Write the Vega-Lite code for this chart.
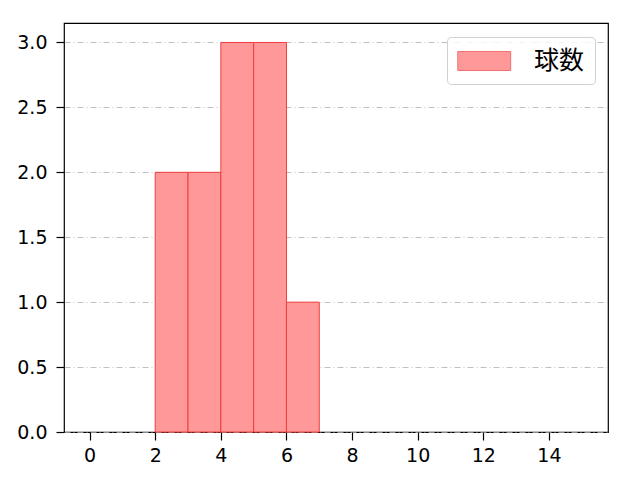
{
  "$schema": "https://vega.github.io/schema/vega-lite/v6.json",
  "width": 544,
  "height": 409,
  "autosize": "none",
  "padding": {"left": 64, "top": 23, "right": 32, "bottom": 48},
  "data": {
    "values": [
      {"start": 2, "end": 3, "count": 2, "series": "球数"},
      {"start": 3, "end": 4, "count": 2, "series": "球数"},
      {"start": 4, "end": 5, "count": 3, "series": "球数"},
      {"start": 5, "end": 6, "count": 3, "series": "球数"},
      {"start": 6, "end": 7, "count": 1, "series": "球数"}
    ]
  },
  "mark": {"type": "bar", "stroke": "#f03c3c", "strokeWidth": 1, "opacity": 1},
  "encoding": {
    "x": {
      "field": "start",
      "type": "quantitative",
      "scale": {"domain": [-0.78, 15.8], "nice": false, "zero": false},
      "axis": {"values": [0, 2, 4, 6, 8, 10, 12, 14], "grid": false, "title": null, "labelPadding": 6}
    },
    "x2": {"field": "end"},
    "y": {
      "field": "count",
      "type": "quantitative",
      "scale": {"domain": [0, 3.15], "nice": false},
      "axis": {
        "values": [0, 0.5, 1, 1.5, 2, 2.5, 3],
        "format": ".1f",
        "grid": true,
        "gridColor": "#b0b0b0",
        "gridDash": [6, 3, 1, 3],
        "gridWidth": 0.8,
        "labelPadding": 9,
        "title": null
      }
    },
    "y2": {"datum": 0},
    "color": {
      "field": "series",
      "type": "nominal",
      "scale": {"range": ["#ff9999"]},
      "legend": {
        "title": null,
        "orient": "none",
        "legendX": 383,
        "legendY": 14,
        "symbolType": "M-1,-0.72H3V0.72H-1Z",
        "symbolSize": 700,
        "symbolStrokeColor": "#f07070",
        "symbolStrokeWidth": 1,
        "labelFontSize": 25,
        "labelOffset": 49,
        "padding": 10,
        "strokeColor": "#d0d0d0",
        "fillColor": "rgba(255,255,255,0.8)",
        "cornerRadius": 4
      }
    }
  },
  "config": {
    "font": "DejaVu Sans",
    "view": {"stroke": "#000000", "strokeWidth": 1.2},
    "axis": {
      "domain": false,
      "tickColor": "#000000",
      "tickSize": 8,
      "tickWidth": 1.2,
      "labelFontSize": 19,
      "labelFont": "DejaVu Sans",
      "labelColor": "#000000"
    },
    "legend": {"labelColor": "#000000", "labelFont": "Noto Sans CJK JP"}
  }
}
